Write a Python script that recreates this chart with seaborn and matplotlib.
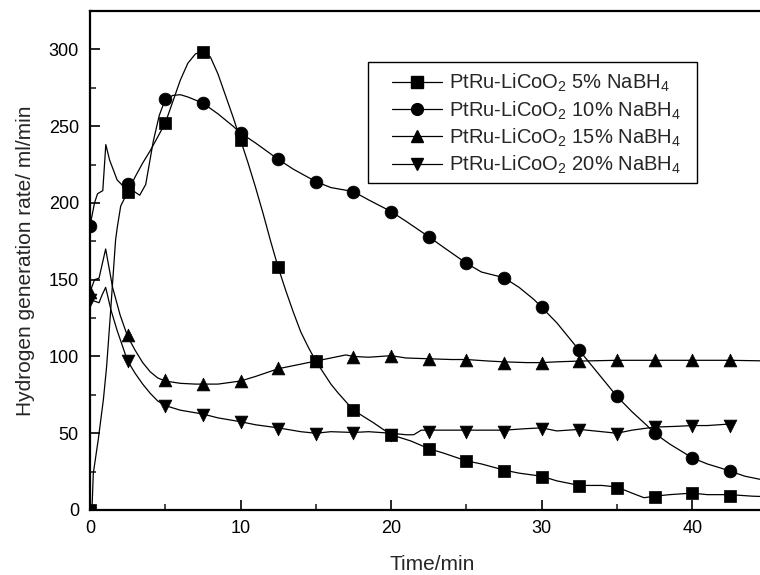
import matplotlib
matplotlib.use("Agg")
import matplotlib.pyplot as plt
from matplotlib.lines import Line2D
from matplotlib.patches import Rectangle
from matplotlib.ticker import MultipleLocator
import pandas as pd
import seaborn as sns

# curve points (time in min, rate in ml/min)
curve_5 = [(0, 0), (0.13, 0), (0.22, 24), (0.55, 46), (0.89, 72), (1.1, 93), (1.33, 124),
           (1.7, 176), (1.81, 184), (2.04, 198), (2.5, 207), (3, 217), (3.5, 226), (4, 234),
           (4.5, 243), (5, 252), (5.5, 266), (6, 280), (6.5, 291), (7, 297), (7.5, 299),
           (8, 295), (8.5, 284), (9, 270), (9.5, 256), (10, 241), (10.5, 226), (11, 210),
           (11.5, 193), (12, 175), (12.5, 158), (13, 143), (13.5, 129), (14, 116), (14.5, 106),
           (15, 97), (16, 82), (16.5, 76), (17.5, 65), (18.8, 57), (20, 49), (21.3, 45),
           (22.5, 40), (23.5, 37), (25, 32), (26, 30), (27.5, 26), (28.5, 24), (30, 22),
           (31, 19), (32.5, 16), (34, 16), (35, 15), (36, 11), (36.8, 8), (37.5, 9),
           (38.5, 10), (40, 11), (41, 10), (42.5, 10), (44, 9), (45.5, 8.5)]
curve_10 = [(0, 185), (0.3, 200), (0.5, 206), (0.85, 208), (1.05, 238), (1.3, 228), (1.8, 215),
            (2.2, 211), (2.5, 212), (3, 207), (3.3, 205), (3.7, 212), (4.2, 240), (4.6, 257),
            (5, 267.5), (5.5, 270), (6, 270.5), (6.5, 269), (7, 267), (7.5, 265), (8.5, 258),
            (9.5, 250), (10, 245.6), (11, 239), (12.5, 228.4), (13.5, 222), (15, 213.9),
            (16, 210), (17.5, 207.4), (18.5, 202), (20, 194.4), (21, 188), (22.5, 178),
            (23.5, 171), (25, 160.7), (26, 155), (27.5, 151.3), (28.5, 145), (29.5, 137),
            (30, 132), (31, 122), (32, 110), (32.5, 104), (33.5, 92), (34.5, 80), (35, 74),
            (36, 64), (37, 55), (37.5, 50), (38.5, 43), (39.5, 37), (40, 34), (41, 30),
            (42, 27), (42.5, 25.4), (43.5, 22), (45.5, 18)]
curve_15 = [(0, 142), (0.3, 150), (0.6, 151), (1.04, 170), (1.5, 145), (2, 127), (2.5, 113),
            (3, 104), (3.5, 96), (4, 90), (4.5, 86), (5, 84), (6, 82.5), (7, 82), (7.5, 82),
            (8.5, 82), (10, 84), (11, 87), (12.5, 92), (14, 95), (15, 97), (16, 99), (17, 101),
            (17.5, 100), (18.5, 99.5), (20, 100.5), (21, 99), (22.5, 98.5), (24, 98), (25, 98),
            (26.5, 97), (27.5, 96.5), (29, 96), (30, 96), (31, 96.5), (32.5, 97), (35, 97.5),
            (37.5, 97.5), (40, 97.5), (42.5, 97.5), (45.5, 97)]
curve_20 = [(0, 137), (0.3, 136), (0.6, 135), (0.8, 140), (1.04, 145), (1.4, 130), (1.8, 117),
            (2.5, 97), (3, 89), (3.5, 82), (4, 76), (4.5, 71), (5, 68), (6, 65), (7.5, 62.5),
            (8.5, 60), (10, 57.5), (11, 55.5), (12.5, 53.5), (14, 51), (15, 50), (16, 51),
            (17.5, 50.5), (18.5, 51), (20, 50), (21, 49), (21.5, 49), (22, 52), (22.5, 52),
            (24, 52), (25, 52), (26, 52), (27.5, 52), (29, 53), (30, 53.5), (31, 51.5),
            (32.5, 52.5), (34, 51), (35, 50), (36, 52), (37.5, 54), (39, 54.5), (40, 55),
            (41, 55), (42.5, 56)]

# marker points every 2.5 min
marker_t = [0, 2.5, 5, 7.5, 10, 12.5, 15, 17.5, 20, 22.5, 25, 27.5, 30, 32.5, 35, 37.5, 40, 42.5]
marker_5 = [0, 207, 252, 298.6, 241, 158.5, 97, 65, 49, 39.5, 32, 25.6, 21.7, 15.6, 14.5, 8.7, 10.8, 9]
marker_10 = [185, 212, 267.5, 265, 245.6, 228.4, 213.9, 207.4, 194.4, 178, 160.7, 151.3, 132, 104, 74, 50, 34, 25.4]
marker_15 = [142, 114, 84.5, 82, 84, 92.3, 97, 99.9, 100.4, 98.5, 97.9, 96, 96, 97, 97.5, 97.5, 97.5, 97.5]
marker_20 = [137, 97, 67.5, 62, 57, 52.8, 49.5, 49.9, 49, 51, 51, 51, 53, 52, 49.5, 54, 55, 55]

labels = [r"PtRu-LiCoO$_2$ 5% NaBH$_4$", r"PtRu-LiCoO$_2$ 10% NaBH$_4$",
          r"PtRu-LiCoO$_2$ 15% NaBH$_4$", r"PtRu-LiCoO$_2$ 20% NaBH$_4$"]
markers = ["s", "o", "^", "v"]
sizes = {"s": 72, "o": 85, "^": 85, "v": 85}

sns.set_theme(style="ticks")
plt.rcParams['font.family'] = ['Liberation Sans', 'DejaVu Sans']
plt.rcParams['mathtext.fontset'] = 'custom'
plt.rcParams['mathtext.rm'] = 'Liberation Sans'
plt.rcParams['mathtext.it'] = 'Liberation Sans'

fig = plt.figure(figsize=(7.6, 5.75), dpi=100)
ax = fig.add_axes([90 / 760, 65 / 575, 685 / 760, 499 / 575])

curves = [curve_5, curve_10, curve_15, curve_20]
marks = [marker_5, marker_10, marker_15, marker_20]

for lab, curve, mk, mvals in zip(labels, curves, markers, marks):
    df_line = pd.DataFrame(curve, columns=["t", "rate"])
    sns.lineplot(data=df_line, x="t", y="rate", ax=ax, color="black", linewidth=0.9,
                 estimator=None, sort=False)
    df_mk = pd.DataFrame({"t": marker_t, "rate": mvals})
    sns.scatterplot(data=df_mk, x="t", y="rate", ax=ax, color="black", marker=mk,
                    s=sizes[mk], edgecolor="black", linewidth=0.5, zorder=3)

ax.set_xlim(0, 45.5)
ax.set_ylim(0, 325)
ax.xaxis.set_major_locator(MultipleLocator(10))
ax.xaxis.set_minor_locator(MultipleLocator(5))
ax.yaxis.set_major_locator(MultipleLocator(50))
ax.yaxis.set_minor_locator(MultipleLocator(25))
ax.tick_params(which="major", direction="in", length=7, width=1.2, labelsize=13, pad=8,
               colors="black")
ax.tick_params(which="minor", direction="in", length=4, width=1.2)
ax.tick_params(axis="x", pad=7)

for side in ["left", "bottom", "top"]:
    ax.spines[side].set_linewidth(1.6)
    ax.spines[side].set_color("black")
ax.spines["right"].set_visible(False)

ax.set_xlabel("Time/min", fontsize=15, labelpad=13)
ax.set_ylabel("Hydrogen generation rate/ ml/min", fontsize=15, labelpad=10)

# legend box drawn separately so the padding matches the original
ax.add_patch(Rectangle((0.406, 0.655), 0.48, 0.243, transform=ax.transAxes,
                       fill=True, facecolor="white", edgecolor="black", linewidth=1.0,
                       zorder=4))
handles = [Line2D([0], [0], color="black", linewidth=0.9, marker=m, markersize=8.5)
           for m in markers]
leg = ax.legend(handles, labels, loc="upper left", bbox_to_anchor=(0.441, 0.878),
                borderaxespad=0, borderpad=0, fontsize=14.5, frameon=False,
                handlelength=2.5, handletextpad=0.35, labelspacing=0.25)
leg.set_zorder(5)

fig.savefig("out.png", dpi=100)
